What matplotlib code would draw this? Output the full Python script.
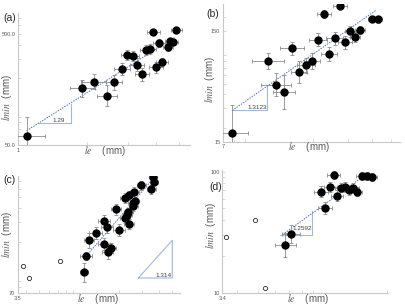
import matplotlib
matplotlib.use("Agg")
import matplotlib.pyplot as plt
import numpy as np
from matplotlib.ticker import FixedLocator, FixedFormatter, LogLocator, NullFormatter

plt.rcParams['mathtext.fontset'] = 'stix'
plt.rcParams['font.family'] = ['Liberation Sans', 'DejaVu Sans']

# ---------------- panel (a) ----------------
a_le = [1.09, 1.90, 2.14, 2.44, 2.62, 2.83, 2.99, 3.16, 3.30, 3.47, 3.59, 3.74, 3.88, 3.99, 4.11, 4.24, 4.48, 4.59, 4.72, 4.88]
a_lmin = [60.3, 162, 186, 139, 184, 240, 321, 319, 265, 217, 356, 366, 518, 251, 412, 278, 384, 435, 424, 547]
a_xerr = [1.201, 1.133, 1.133, 1.105, 1.080, 1.081, 1.062, 1.062, 1.073, 1.073, 1.062, 1.062, 1.069, 1.069, 1.062, 1.062, 1.051, 1.051, 1.051, 1.056]
a_yerr = [1.474, 1.198, 1.173, 1.249, 1.164, 1.132, 1.109, 1.109, 1.149, 1.149, 1.109, 1.109, 1.064, 1.121, 1.086, 1.086, 1.086, 1.064, 1.064, 1.064]
a_fit_le = [1.09, 4.81]
a_fit_lmin = [67.3, 467]
a_tri_le = [1.23, 1.70, 1.70]
a_tri_lmin = [78.4, 78.4, 116]
a_slope = "1.29"
a_slope_pos = (1.50, 78.4)

# ---------------- panel (b) ----------------
b_le = [7.80, 11.8, 13.0, 14.3, 15.7, 17.0, 18.5, 19.8, 21.3, 22.7, 24.2, 25.9, 27.4, 29.1, 31.0, 32.8, 34.7, 40.0, 42.7]
b_lmin = [17.9, 80.1, 49.2, 42.2, 104, 63.6, 73.2, 80.1, 125, 213, 93.5, 128, 253, 118, 149, 132, 152, 193, 190]
b_xerr = [1.206, 1.206, 1.191, 1.141, 1.150, 1.102, 1.107, 1.102, 1.111, 1.085, 1.094, 1.104, 1.085, 1.081, 1.066, 1.060, 1.064, 1.050, 1.056]
b_yerr = [1.797, 1.190, 1.278, 1.419, 1.150, 1.254, 1.165, 1.170, 1.139, 1.087, 1.158, 1.134, 1.065, 1.139, 1.122, 1.103, 1.087, 1.065, 1.065]
b_fit_le = [7.80, 42.0]
b_fit_lmin = [28.7, 231]
b_tri_le = [7.80, 11.75, 11.75]
b_tri_lmin = [28.7, 28.7, 49.2]
b_slope = "1.3123"
b_slope_pos = (10.5, 28.7)

# ---------------- panel (c) ----------------
c_le = [11.03, 11.36, 11.9, 13.4, 15.5, 16.5, 17.6, 15.4, 16.3, 20.2, 19.2, 24.0, 22.2, 23.1, 23.6, 22.3, 24.0, 26.1, 25.8, 26.4, 25.5, 29.6, 35.2, 36.0, 36.7]
c_lmin = [107, 149, 207, 239, 192, 162, 177, 308, 272, 257, 394, 291, 329, 348, 368, 494, 522, 555, 416, 461, 445, 641, 594, 760, 690]
c_xerr = [1.072, 1.104, 1.090, 1.123, 1.105, 1.105, 1.090, 1.109, 1.109, 1.109, 1.090, 1.090, 1.090, 1.081, 1.081, 1.090, 1.081, 1.081, 1.081, 1.081, 1.081, 1.085, 1.081, 1.072, 1.072]
c_yerr = [1.220, 1.086, 1.167, 1.127, 1.127, 1.155, 1.108, 1.136, 1.127, 1.127, 1.120, 1.113, 1.108, 1.097, 1.097, 1.108, 1.097, 1.127, 1.097, 1.097, 1.097, 1.097, 1.097, 1.075, 1.075]
c_open_le = [3.80, 4.26, 7.24]
c_open_lmin = [121, 95.3, 136]
c_fit_le = [11.36, 36.0]
c_fit_lmin = [149, 729]
c_tri_le = [28.1, 50.6, 50.6, 28.1]
c_tri_lmin = [95.3, 95.3, 207, 95.3]
c_slope = "1.314"
c_slope_pos = (43.8, 95.3)

# ---------------- panel (d) ----------------
d_le = [6.71, 7.16, 9.83, 10.3, 10.9, 11.3, 11.7, 12.2, 12.7, 13.3, 13.9, 14.5, 15.3, 16.1, 17.1]
d_lmin = [24.9, 30.7, 68.5, 50.2, 74.7, 94.5, 63.0, 73.9, 74.3, 70.2, 73.3, 68.0, 91.5, 91.5, 89.8]
d_xerr = [1.124, 1.102, 1.078, 1.078, 1.075, 1.070, 1.069, 1.069, 1.067, 1.067, 1.067, 1.059, 1.059, 1.059, 1.059]
d_yerr = [1.262, 1.190, 1.114, 1.116, 1.099, 1.079, 1.110, 1.099, 1.099, 1.099, 1.099, 1.089, 1.079, 1.079, 1.079]
d_open_le = [3.55, 4.82, 5.39]
d_open_lmin = [29.0, 40.0, 11.0]
d_fit_le = [6.66, 16.7]
d_fit_lmin = [31.1, 100]
d_tri_le = [6.31, 8.97, 8.97]
d_tri_lmin = [30.1, 30.1, 46.9]
d_slope = "1.2592"
d_slope_pos = (7.24, 33.8)

W, H = 406, 307
fig = plt.figure(figsize=(W / 100, H / 100), dpi=100)
fig.patch.set_facecolor('white')

AX_COL = '#C8C8C8'
TXT = '#595959'
ERR = '#8C8C8C'
FIT = '#4472C4'
TRI = '#9DB9E2'


def rect(l, t, r, b):
    return [l / W, 1 - b / H, (r - l) / W, (b - t) / H]


def panel(r, xlim, ylim, le, lmin, xf, yf, xt, xtl, yt, ytl,
          fit_le, fit_lmin, tri_le, tri_lmin, slope, slope_pos, slope_kw,
          open_le=None, open_lmin=None):
    ax = fig.add_axes(r)
    ax.set_xscale('log')
    ax.set_yscale('log')
    ax.set_xlim(xlim)
    ax.set_ylim(ylim)
    le = np.asarray(le, float)
    lmin = np.asarray(lmin, float)
    xf = np.asarray(xf, float)
    yf = np.asarray(yf, float)
    xerr = [le - le / xf, le * xf - le]
    yerr = [lmin - lmin / yf, lmin * yf - lmin]
    ax.plot(tri_le, tri_lmin, color=TRI, lw=0.8, zorder=1)
    ax.plot(fit_le, fit_lmin, color=FIT, lw=0.7, ls=(0, (1.5, 1.2)), zorder=2)
    ax.errorbar(le, lmin, xerr=xerr, yerr=yerr, fmt='o', color='black',
                ms=5, ecolor=ERR, elinewidth=0.6, capsize=1.2, capthick=0.6,
                zorder=3)
    if open_le is not None:
        ax.plot(open_le, open_lmin, 'o', ms=3, mfc='white', mec='black',
                mew=0.5, zorder=3)
    ax.text(slope_pos[0], slope_pos[1], slope, fontsize=4.6, color='#404040',
            **slope_kw, zorder=4)
    for s in ['top', 'right']:
        ax.spines[s].set_visible(False)
    for s in ['left', 'bottom']:
        ax.spines[s].set_color(AX_COL)
        ax.spines[s].set_linewidth(0.8)
    ax.xaxis.set_major_locator(FixedLocator(xt))
    ax.xaxis.set_major_formatter(FixedFormatter(xtl))
    ax.yaxis.set_major_locator(FixedLocator(yt))
    ax.yaxis.set_major_formatter(FixedFormatter(ytl))
    ax.xaxis.set_minor_locator(LogLocator(base=10, subs=np.arange(2, 10)))
    ax.yaxis.set_minor_locator(LogLocator(base=10, subs=np.arange(2, 10)))
    ax.xaxis.set_minor_formatter(NullFormatter())
    ax.yaxis.set_minor_formatter(NullFormatter())
    ax.tick_params(which='both', direction='in', length=2, width=0.5,
                   color=AX_COL, labelsize=4, labelcolor=TXT, pad=2)
    ax.set_facecolor('none')
    return ax


panel(rect(18, 13, 190, 145), (1, 5.6), (50, 774), a_le, a_lmin, a_xerr, a_yerr,
      [1], ['1'], [50, 500], ['50.0', '500.0'],
      a_fit_le, a_fit_lmin, a_tri_le, a_tri_lmin, a_slope, a_slope_pos,
      dict(ha='center', va='bottom'))
panel(rect(223, 4, 400, 141.7), (7, 55.4), (15, 262), b_le, b_lmin, b_xerr, b_yerr,
      [7], ['7'], [15, 150], ['15', '150'],
      b_fit_le, b_fit_lmin, b_tri_le, b_tri_lmin, b_slope, b_slope_pos,
      dict(ha='center', va='bottom'))
panel(rect(18, 176, 180, 293), (3.5, 57.8), (70, 777), c_le, c_lmin, c_xerr, c_yerr,
      [3.5], ['3.5'], [70], ['70'],
      c_fit_le, c_fit_lmin, c_tri_le, c_tri_lmin, c_slope, c_slope_pos,
      dict(ha='center', va='bottom'), c_open_le, c_open_lmin)
panel(rect(222.3, 170, 388, 293), (3.4, 20.3), (10, 103), d_le, d_lmin, d_xerr, d_yerr,
      [3.4], ['3.4'], [10, 100], ['10', '100'],
      d_fit_le, d_fit_lmin, d_tri_le, d_tri_lmin, d_slope, d_slope_pos,
      dict(ha='left', va='center'), d_open_le, d_open_lmin)


def ftext(px, py, s, **kw):
    fig.text(px / W, 1 - py / H, s, **kw)


# panel letters
for px, py, s in [(3, 17.7, '(a)'), (206, 14, '(b)'), (3, 180.3, '(c)'), (209.5, 187.3, '(d)')]:
    ftext(px, py, s, fontsize=7.5, color='#262626', ha='left', va='center')

# axis titles
ylab = r'$lmin$  (mm)'
xlab = r'$le$    (mm)'
for px, py in [(6.7, 98), (209.7, 80), (6.7, 234.7), (211.3, 226)]:
    ftext(px, py, ylab, fontsize=7, color=TXT, rotation=90, ha='center', va='center')
for px, py in [(105, 151), (309, 146.5), (98, 299), (308, 299)]:
    ftext(px, py, xlab, fontsize=7, color=TXT, ha='center', va='center')

fig.savefig('out.png', dpi=100, facecolor='white')
